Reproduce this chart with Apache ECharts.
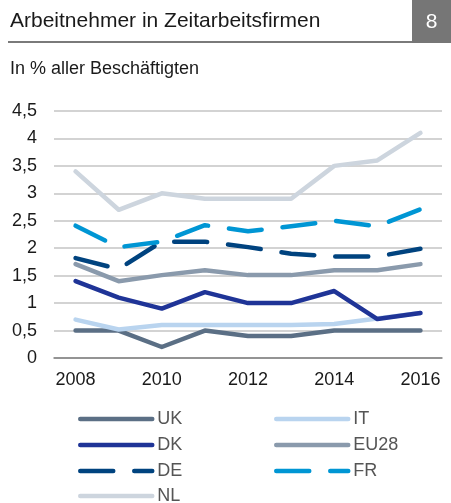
<!DOCTYPE html>
<html>
<head>
<meta charset="utf-8">
<script src="https://cdn.jsdelivr.net/npm/echarts@6/dist/echarts.min.js"></script>
<style>
  html, body { margin: 0; padding: 0; background: #fff; }
  #chart { width: 451px; height: 503px; }
</style>
</head>
<body>
<div id="chart"></div>
<script>
// Jahre
const years = ['2008', '2009', '2010', '2011', '2012', '2013', '2014', '2015', '2016'];

// Anteil in % aller Beschäftigten
const uk   = [0.5, 0.5, 0.2, 0.5, 0.4, 0.4, 0.5, 0.5, 0.5];
const it   = [0.7, 0.52, 0.6, 0.6, 0.6, 0.6, 0.62, 0.72, 0.82];
const dk   = [1.4, 1.1, 0.9, 1.2, 1.0, 1.0, 1.22, 0.71, 0.82];
const eu28 = [1.71, 1.4, 1.51, 1.6, 1.51, 1.51, 1.6, 1.6, 1.71];
const de   = [1.82, 1.62, 2.12, 2.12, 2.02, 1.9, 1.85, 1.85, 1.99];
const fr   = [2.41, 2.02, 2.12, 2.42, 2.31, 2.4, 2.5, 2.4, 2.71];
const nl   = [3.4, 2.7, 3.0, 2.9, 2.9, 2.9, 3.5, 3.6, 4.1];

const font = 'Liberation Sans, Arial, sans-serif';
const dash = [33, 21];

function line(name, data, color, type) {
  return {
    name: name,
    type: 'line',
    data: data,
    symbol: 'none',
    color: color,
    lineStyle: { color: color, width: 4.5, type: type || 'solid', cap: 'round', join: 'round' }
  };
}

// gemeinsame Legenden-Einstellungen (zwei Spalten, NL separat unten)
const legendBase = {
  orient: 'vertical',
  itemWidth: 72, itemHeight: 14, itemGap: 8,
  itemStyle: { opacity: 0 },
  lineStyle: { width: 4.5, cap: 'round' },
  textStyle: { fontSize: 18, color: '#555', fontFamily: font }
};

const chart = echarts.init(document.getElementById('chart'));
chart.setOption({
  animation: false,
  textStyle: { fontFamily: font },
  title: [
    { text: 'Arbeitnehmer in Zeitarbeitsfirmen', left: 5, top: 6,
      textStyle: { fontSize: 21, fontWeight: 'normal', color: '#1a1a1a', fontFamily: font } },
    { text: 'In % aller Beschäftigten', left: 5, top: 55,
      textStyle: { fontSize: 18, fontWeight: 'normal', color: '#1a1a1a', fontFamily: font } }
  ],
  graphic: [
    { type: 'rect', shape: { x: 412, y: 0, width: 39, height: 43 }, style: { fill: '#767676' } },
    { type: 'text', x: 431.5, y: 22, style: { text: '8', fill: '#fff', fontSize: 21, fontFamily: font, align: 'center', verticalAlign: 'middle' } },
    { type: 'rect', shape: { x: 8, y: 41, width: 404, height: 2 }, style: { fill: '#7a7a7a' } }
  ],
  legend: [
    Object.assign({ data: ['UK', 'DK', 'DE'], left: 73, top: 405 }, legendBase),
    Object.assign({ data: ['IT', 'EU28', 'FR'], left: 269, top: 405 }, legendBase),
    Object.assign({ data: ['NL'], left: 73, top: 482 }, legendBase)
  ],
  grid: { left: 54, right: 9, top: 111, bottom: 145 },
  xAxis: {
    type: 'category',
    data: years,
    boundaryGap: true,
    axisLine: { lineStyle: { color: '#808080', width: 1.5 } },
    axisTick: { show: false },
    axisLabel: { interval: 1, fontSize: 18, color: '#1a1a1a', margin: 13 }
  },
  yAxis: {
    type: 'value',
    min: 0, max: 4.5, interval: 0.5,
    axisLine: { show: false },
    axisTick: { show: false },
    splitLine: { lineStyle: { color: '#c4c4c4', width: 1.5 } },
    axisLabel: { fontSize: 18, color: '#1a1a1a', margin: 17,
      formatter: v => String(v).replace('.', ',') }
  },
  series: [
    line('UK', uk, '#5b6f85'),
    line('IT', it, '#b9d4ef'),
    line('DK', dk, '#1f3497'),
    line('EU28', eu28, '#8a9aac'),
    line('DE', de, '#00437f', dash),
    line('FR', fr, '#0096d4', dash),
    line('NL', nl, '#cdd5de')
  ]
});
</script>
</body>
</html>
